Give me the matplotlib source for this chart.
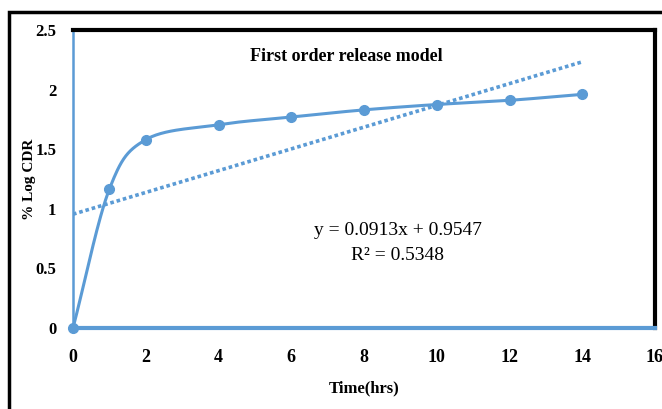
import numpy as np
import matplotlib.pyplot as plt
from matplotlib.patches import Rectangle

# release data
time_hrs = [0, 1, 2, 4, 6, 8, 10, 12, 14]
log_cdr = [0.0, 1.165, 1.58, 1.705, 1.77, 1.83, 1.875, 1.91, 1.96]

# linear fit shown on the chart
slope = 0.0913
intercept = 0.9547
r_squared = 0.5348

x_ticks = [0, 2, 4, 6, 8, 10, 12, 14, 16]
y_ticks = [0, 0.5, 1, 1.5, 2, 2.5]
y_tick_labels = ["0", "0.5", "1", "1.5", "2", "2.5"]

blue = "#5b9bd5"
font = "Liberation Serif"


def smooth(xs, ys, n=30):
    # Catmull-Rom style curve through the points (like a smoothed Excel line)
    xs = np.asarray(xs, float)
    ys = np.asarray(ys, float)
    px = np.concatenate([[2 * xs[0] - xs[1]], xs, [2 * xs[-1] - xs[-2]]])
    py = np.concatenate([[2 * ys[0] - ys[1]], ys, [2 * ys[-1] - ys[-2]]])
    out_x, out_y = [], []
    for i in range(1, len(px) - 2):
        t = np.linspace(0, 1, n)
        for p, out in ((px, out_x), (py, out_y)):
            p0, p1, p2, p3 = p[i - 1], p[i], p[i + 1], p[i + 2]
            out.extend(0.5 * ((2 * p1) + (-p0 + p2) * t
                              + (2 * p0 - 5 * p1 + 4 * p2 - p3) * t ** 2
                              + (-p0 + 3 * p1 - 3 * p2 + p3) * t ** 3))
    return np.array(out_x), np.array(out_y)


fig = plt.figure(figsize=(6.62, 4.09), dpi=100)

# outer frame around the chart
fig.patches.append(Rectangle((9 / 662, -0.1), 1.2, 1 - 12 / 409 + 0.1,
                             transform=fig.transFigure, fill=False,
                             edgecolor="black", linewidth=2.5))

ax = fig.add_axes([73 / 662, 1 - 328 / 409, 582 / 662, 298 / 409])

sx, sy = smooth(time_hrs, log_cdr)
ax.plot(sx, sy, color=blue, linewidth=2.2, zorder=3, clip_on=False)
ax.plot(time_hrs, log_cdr, "o", color=blue, markersize=7, zorder=4, clip_on=False)

fit_x = np.array([time_hrs[0], time_hrs[-1]])
ax.plot(fit_x, slope * fit_x + intercept, color=blue, linewidth=2.6,
        linestyle=(0, (1, 0.8)), zorder=2)

ax.set_xlim(0, 16)
ax.set_ylim(0, 2.5)
ax.set_xticks(x_ticks)
ax.set_yticks(y_ticks)
ax.set_yticklabels(y_tick_labels)
ax.tick_params(axis="y", length=0, pad=12, labelsize=12)
ax.tick_params(axis="x", length=0, pad=15, labelsize=13)
for lab in ax.get_xticklabels() + ax.get_yticklabels():
    lab.set_fontfamily(font)
    lab.set_fontweight("bold")

ax.spines["top"].set_linewidth(3)
ax.spines["right"].set_linewidth(3)
ax.spines["top"].set_color("black")
ax.spines["right"].set_color("black")
ax.spines["left"].set_color(blue)
ax.spines["left"].set_linewidth(1.8)
ax.spines["bottom"].set_color(blue)
ax.spines["bottom"].set_linewidth(3)

ax.set_xlabel("Time(hrs)", fontfamily=font, fontweight="bold", fontsize=12)
ax.xaxis.set_label_coords(0.5, -0.175)
ax.set_ylabel("% Log CDR", fontfamily=font, fontweight="bold", fontsize=11)
ax.yaxis.set_label_coords(-37 / 582, 0.5)

ax.text(0.469, 0.91, "First order release model", transform=ax.transAxes,
        ha="center", va="center", fontfamily=font, fontweight="bold", fontsize=13)
ax.text(0.558, 0.285, f"y = {slope}x + {intercept}\nR² = {r_squared}",
        transform=ax.transAxes, ha="center", va="center", fontfamily=font,
        fontsize=14, linespacing=1.55)

fig.savefig("out.png", dpi=100)
